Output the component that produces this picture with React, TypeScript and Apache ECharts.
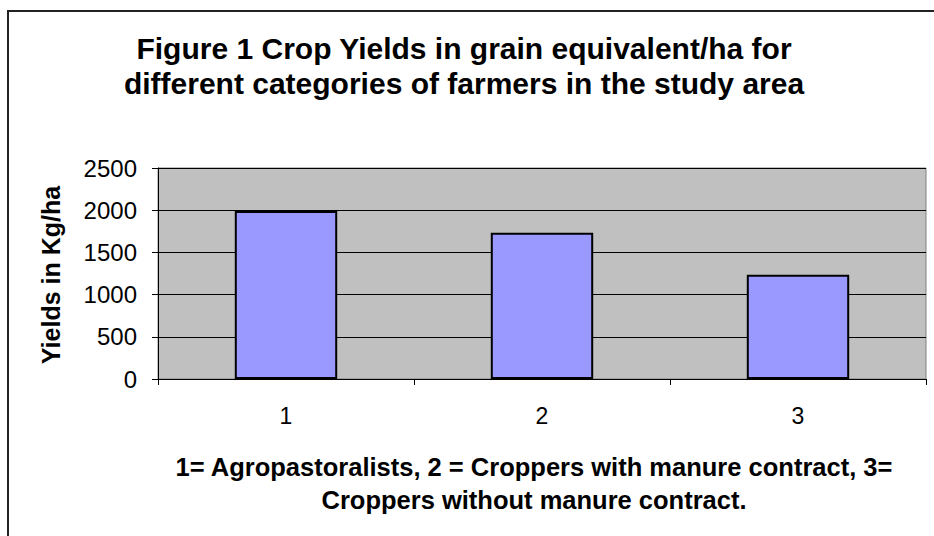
import React, { useEffect, useRef } from "react";
import * as echarts from "echarts";

const categories = ["1", "2", "3"];
const yields = [1990, 1732, 1234];
const yTicks = { min: 0, max: 2500, interval: 500 };
const titleLines = [
  "Figure 1 Crop Yields in grain equivalent/ha for",
  "different categories of farmers in the study area",
];
const yAxisName = "Yields in Kg/ha";
const captionLines = [
  "1= Agropastoralists, 2 = Croppers with manure contract, 3=",
  "Croppers without manure contract.",
];

export default function App() {
  const ref = useRef<HTMLDivElement>(null);
  useEffect(() => {
    document.body.style.margin = "0";
    const chart = echarts.init(ref.current!, null, { renderer: "svg" });
    const font = "Arial, 'Liberation Sans', sans-serif";
    chart.setOption({
      animation: false,
      backgroundColor: "#ffffff",
      grid: {
        left: 158,
        top: 168,
        width: 768,
        height: 211,
        show: true,
        backgroundColor: "#c0c0c0",
        borderColor: "#808080",
        borderWidth: 1,
        containLabel: false,
      },
      xAxis: {
        type: "category",
        data: categories,
        axisLine: { show: true, lineStyle: { color: "#000", width: 1 } },
        axisTick: { show: true, length: 6, lineStyle: { color: "#000" } },
        axisLabel: {
          color: "#000",
          fontFamily: font,
          fontSize: 23,
          margin: 25,
        },
      },
      yAxis: {
        type: "value",
        min: yTicks.min,
        max: yTicks.max,
        interval: yTicks.interval,
        axisLine: { show: true, lineStyle: { color: "#000", width: 1 } },
        axisTick: { show: true, length: 6, lineStyle: { color: "#000" } },
        axisLabel: {
          color: "#000",
          fontFamily: font,
          fontSize: 24,
          margin: 21,
          formatter: (v: number) => String(v),
        },
        splitLine: { show: true, lineStyle: { color: "#000", width: 1 } },
      },
      series: [
        {
          type: "bar",
          data: yields,
          barWidth: "40%",
          itemStyle: { color: "#9999ff", borderColor: "#000", borderWidth: 2 },
        },
      ],
      graphic: [
        {
          type: "rect",
          shape: { x: 8, y: 11, width: 1000, height: 1000 },
          style: { fill: "none", stroke: "#222", lineWidth: 2 },
          silent: true,
        },
        ...titleLines.map((t, i) => ({
          type: "text",
          x: 464,
          y: 48 + i * 35,
          style: {
            text: t,
            fill: "#000",
            font: `bold 30px ${font}`,
            textAlign: "center",
            textVerticalAlign: "middle",
          },
        })),
        {
          type: "text",
          x: 51,
          y: 275,
          rotation: Math.PI / 2,
          style: {
            text: yAxisName,
            fill: "#000",
            font: `bold 25px ${font}`,
            textAlign: "center",
            textVerticalAlign: "middle",
          },
        },
        ...captionLines.map((t, i) => ({
          type: "text",
          x: 534,
          y: 467 + i * 33,
          style: {
            text: t,
            fill: "#000",
            font: `bold 25.5px ${font}`,
            textAlign: "center",
            textVerticalAlign: "middle",
          },
        })),
      ],
    });
    return () => chart.dispose();
  }, []);
  return <div ref={ref} style={{ width: 934, height: 536 }} />;
}
